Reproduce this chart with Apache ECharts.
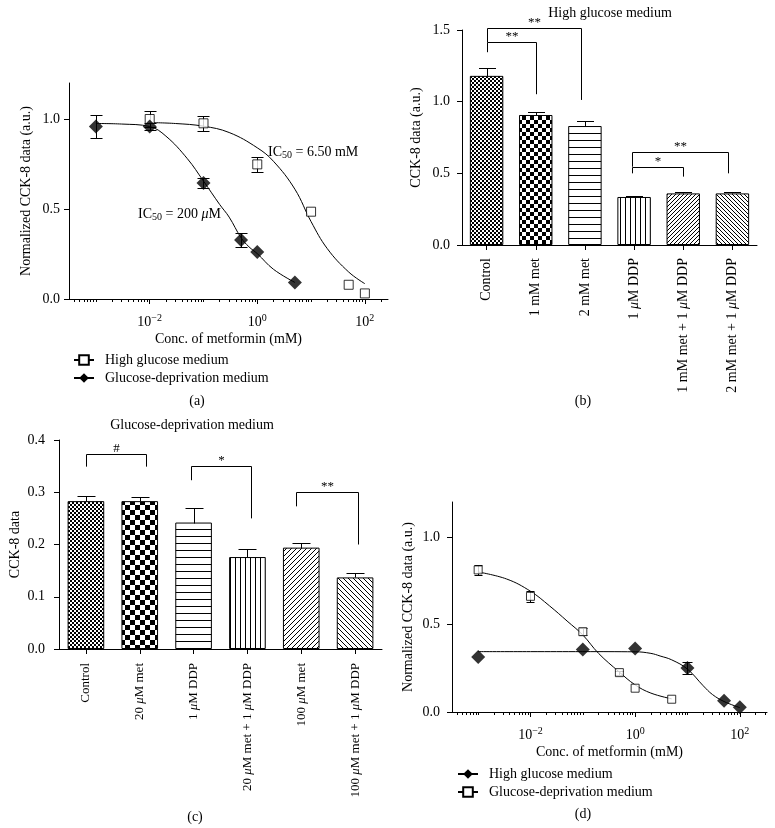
<!DOCTYPE html>
<html>
<head>
<meta charset="utf-8">
<script src="https://cdn.jsdelivr.net/npm/echarts@6/dist/echarts.min.js"></script>
<style>
html, body { margin: 0; padding: 0; background: #fff; }
#wrap { position: relative; width: 775px; height: 828px; }
.panel { position: absolute; }
</style>
</head>
<body>
<div id="wrap">
  <div id="pa" class="panel" style="left:0;top:0;width:390px;height:410px"></div>
  <div id="pb" class="panel" style="left:390px;top:0;width:385px;height:410px"></div>
  <div id="pc" class="panel" style="left:0;top:410px;width:390px;height:418px"></div>
  <div id="pd" class="panel" style="left:390px;top:410px;width:385px;height:418px"></div>
</div>
<script>
var FONT = '"Liberation Serif", "DejaVu Serif", serif';
var INK = '#000';

// ---- panel (a): dose response, mean +/- error ----
var concHgA = [0.01, 0.1, 1, 10, 50, 100];
var meanHgA = [1.0, 0.976, 0.748, 0.485, 0.079, 0.031];
var errHgA  = [0.045, 0.04, 0.043, 0, 0, 0];
var concGdA = [0.001, 0.01, 0.1, 0.5, 1, 5];
var meanGdA = [0.959, 0.959, 0.644, 0.328, 0.261, 0.092];
var errGdA  = [0.062, 0.02, 0.03, 0.04, 0, 0];
// fitted curves
var fitHgXA = [0.01, 0.03, 0.1, 0.3, 1, 2, 5, 10, 20, 50, 100];
var fitHgYA = [0.98, 0.975, 0.96, 0.925, 0.84, 0.765, 0.61, 0.43, 0.28, 0.15, 0.085];
var fitGdXA = [0.001, 0.003, 0.01, 0.02, 0.05, 0.1, 0.2, 0.3, 0.5, 0.7, 1, 2, 5];
var fitGdYA = [0.975, 0.972, 0.958, 0.905, 0.78, 0.655, 0.525, 0.455, 0.34, 0.29, 0.252, 0.165, 0.092];

// ---- panel (b): high glucose medium ----
var catsB = ['Control', '1 mM met', '2 mM met', '1 μM DDP', '1 mM met + 1 μM DDP', '2 mM met + 1 μM DDP'];
var valsB = [1.18, 0.907, 0.83, 0.335, 0.36, 0.36];
var errB  = [0.055, 0.02, 0.037, 0.005, 0.013, 0.007];
// brackets: [from, to, level, left leg end, right leg end]
var bracketsB = [[0, 1.01, 1.414, 1.345, 1.052], [0, 1.93, 1.512, 1.414, 1.012],
                 [2.95, 4.0, 0.546, 0.5, 0.477], [2.95, 4.91, 0.647, 0.546, 0.5]];
var bracketTextB = ['**', '**', '*', '**'];

// ---- panel (c): glucose-deprivation medium ----
var catsC = ['Control', '20 μM met', '1 μM DDP', '20 μM met + 1 μM DDP', '100 μM met', '100 μM met + 1 μM DDP'];
var valsC = [0.283, 0.283, 0.242, 0.176, 0.194, 0.137];
var errC  = [0.01, 0.008, 0.027, 0.016, 0.009, 0.008];
var bracketsC = [[0.01, 1.12, 0.373, 0.349, 0.349], [1.96, 3.06, 0.35, 0.323, 0.25],
                 [3.91, 5.05, 0.30, 0.273, 0.20]];
var bracketTextC = ['#', '*', '**'];

// ---- panel (d) ----
var concHgD = [0.001, 0.1, 1, 10, 50, 100];
var meanHgD = [0.315, 0.357, 0.363, 0.252, 0.065, 0.027];
var errHgD  = [0, 0, 0, 0.032, 0, 0];
var concGdD = [0.001, 0.01, 0.1, 0.5, 1, 5];
var meanGdD = [0.812, 0.661, 0.459, 0.225, 0.136, 0.073];
var errGdD  = [0.028, 0.032, 0.02, 0.012, 0, 0];
var fitHgXD = [0.001, 0.01, 0.1, 1, 2, 3, 5, 10, 20, 30, 50, 100];
var fitHgYD = [0.345, 0.345, 0.345, 0.344, 0.335, 0.32, 0.298, 0.245, 0.15, 0.1, 0.06, 0.025];
var fitGdXD = [0.001, 0.0035, 0.01, 0.023, 0.05, 0.1, 0.2, 0.5, 1, 2, 5];
var fitGdYD = [0.8, 0.76, 0.69, 0.607, 0.52, 0.44, 0.335, 0.228, 0.155, 0.108, 0.075];

// log axis ticks
var labelDecades = [0.01, 1, 100];
var otherDecades = [0.001, 0.1, 10];
var decadeStarts = [0.0001, 0.001, 0.01, 0.1, 1, 10, 100];
var minorSteps = [2, 3, 4, 5, 6, 7, 8, 9];

var hgName = 'High glucose medium';
var gdName = 'Glucose-deprivation medium';

var minorTicks = otherDecades.slice();
decadeStarts.forEach(function (d) {
    minorSteps.forEach(function (m) { minorTicks.push(+(d * m).toPrecision(3)); });
});

function pair(xs, ys) {
    return xs.map(function (x, i) { return [x, ys[i]]; });
}
function triple(xs, ys, es) {
    return xs.map(function (x, i) { return [x, ys[i], es[i]]; });
}

// ---- fill patterns ----
function tile(w, h) {
    var c = document.createElement('canvas');
    c.width = w; c.height = h;
    var ctx = c.getContext('2d');
    ctx.fillStyle = '#fff';
    ctx.fillRect(0, 0, w, h);
    ctx.fillStyle = INK;
    ctx.strokeStyle = INK;
    return { c: c, ctx: ctx };
}
function checker(s) {
    var t = tile(2 * s, 2 * s);
    t.ctx.fillRect(0, 0, s, s);
    t.ctx.fillRect(s, s, s, s);
    return { image: t.c, repeat: 'repeat' };
}
function hLines(g) {
    var t = tile(g, g);
    t.ctx.fillRect(0, 0, g, 1);
    return { image: t.c, repeat: 'repeat' };
}
function vLines(g) {
    var t = tile(g, g);
    t.ctx.fillRect(0, 0, 1, g);
    return { image: t.c, repeat: 'repeat' };
}
function diag(g, up) {
    var t = tile(g, g), ctx = t.ctx;
    ctx.lineWidth = 1;
    ctx.beginPath();
    if (up) {
        ctx.moveTo(0, g); ctx.lineTo(g, 0);
        ctx.moveTo(-1, 1); ctx.lineTo(1, -1);
        ctx.moveTo(g - 1, g + 1); ctx.lineTo(g + 1, g - 1);
    } else {
        ctx.moveTo(0, 0); ctx.lineTo(g, g);
        ctx.moveTo(-1, g - 1); ctx.lineTo(1, g + 1);
        ctx.moveTo(g - 1, -1); ctx.lineTo(g + 1, 1);
    }
    ctx.stroke();
    return { image: t.c, repeat: 'repeat' };
}

var patternsB = [checker(2), checker(4), hLines(7), vLines(5), diag(4, true), diag(4, false)];
var patternsC = [checker(2), checker(5), hLines(7), vLines(5), diag(5, true), diag(5, false)];

// ---- custom renderers ----
function errorBars(cap, upOnly) {
    return function (params, api) {
        var e = api.value(2);
        if (!e) return;
        var x = api.value(0), y = api.value(1);
        var hi = api.coord([x, y + e]);
        var lo = api.coord([x, upOnly ? y : y - e]);
        var cx = Math.round(hi[0]) + 0.5, h = cap / 2;
        var yh = Math.round(hi[1]) + 0.5, yl = Math.round(lo[1]) + 0.5;
        var st = { stroke: INK, lineWidth: 1 };
        var kids = [
            { type: 'line', shape: { x1: cx, y1: yh, x2: cx, y2: yl }, style: st },
            { type: 'line', shape: { x1: cx - h, y1: yh, x2: cx + h, y2: yh }, style: st }
        ];
        if (!upOnly) {
            kids.push({ type: 'line', shape: { x1: cx - h, y1: yl, x2: cx + h, y2: yl }, style: st });
        }
        return { type: 'group', children: kids };
    };
}

function bracket(texts) {
    return function (params, api) {
        var a = api.coord([api.value(0), api.value(2)]);
        var b = api.coord([api.value(1), api.value(2)]);
        var la = api.coord([api.value(0), api.value(3)]);
        var lb = api.coord([api.value(1), api.value(4)]);
        var x1 = Math.round(a[0]) + 0.5, x2 = Math.round(b[0]) + 0.5, y = Math.round(a[1]) + 0.5;
        return {
            type: 'group',
            children: [
                { type: 'polyline', shape: { points: [[x1, la[1]], [x1, y], [x2, y], [x2, lb[1]]] },
                  style: { stroke: INK, fill: null, lineWidth: 1 } },
                { type: 'text', x: (x1 + x2) / 2, y: y + 1,
                  style: { text: texts[params.dataIndex], fontFamily: FONT, fontSize: 13, fill: INK,
                           align: 'center', textAlign: 'center', verticalAlign: 'bottom', textVerticalAlign: 'bottom' } }
            ]
        };
    };
}

// ---- axis / series builders ----
function supLabel(v) {
    var e = Math.round(Math.log(v) / Math.LN10);
    return '{b|10}{s|' + (e < 0 ? '\u2212' + (-e) : e) + '}';
}

function logAxes(xMin, xMax, nameGap) {
    return [{
        type: 'log', logBase: 10, min: xMin, max: xMax, position: 'bottom',
        axisLine: { show: true, lineStyle: { color: INK, width: 1 } },
        axisTick: { show: true, customValues: labelDecades, length: 5, lineStyle: { color: INK } },
        axisLabel: {
            customValues: labelDecades, formatter: supLabel, margin: 14,
            rich: {
                b: { fontFamily: FONT, fontSize: 14, color: INK },
                s: { fontFamily: FONT, fontSize: 10, color: INK, padding: [0, 0, 8, 0] }
            }
        },
        splitLine: { show: false },
        name: 'Conc. of metformin (mM)', nameLocation: 'middle', nameGap: nameGap, nameMoveOverlap: false,
        nameTextStyle: { fontFamily: FONT, fontSize: 14, color: INK }
    }, {
        type: 'log', logBase: 10, min: xMin, max: xMax, position: 'bottom',
        axisLine: { show: false },
        axisTick: { show: true, customValues: minorTicks, length: 3, lineStyle: { color: INK } },
        axisLabel: { show: false },
        splitLine: { show: false }
    }];
}

function curveYAxis(nameGap, margin) {
    return {
        type: 'value', min: 0, max: 1.2,
        axisLine: { show: true, onZero: false, lineStyle: { color: INK, width: 1 } },
        axisTick: { show: true, customValues: [0, 0.5, 1], length: 5, lineStyle: { color: INK } },
        axisLabel: { customValues: [0, 0.5, 1], margin: margin, fontFamily: FONT, fontSize: 14, color: INK,
                     formatter: function (v) { return v.toFixed(1); } },
        splitLine: { show: false },
        name: 'Normalized CCK-8 data (a.u.)', nameLocation: 'middle', nameGap: nameGap, nameRotate: 90,
        nameMoveOverlap: false,
        nameTextStyle: { fontFamily: FONT, fontSize: 14, color: INK }
    };
}

function barYAxis(max, step, name, nameGap, margin) {
    return {
        type: 'value', min: 0, max: max, interval: step,
        axisLine: { show: true, onZero: false, lineStyle: { color: INK, width: 1 } },
        axisTick: { show: true, length: 5, lineStyle: { color: INK } },
        axisLabel: { margin: margin, fontFamily: FONT, fontSize: 14, color: INK,
                     formatter: function (v) { return v.toFixed(1); } },
        splitLine: { show: false },
        name: name, nameLocation: 'middle', nameGap: nameGap, nameRotate: 90, nameMoveOverlap: false,
        nameTextStyle: { fontFamily: FONT, fontSize: 14, color: INK }
    };
}

function barXAxes(cats, fontSize, margin) {
    return [{
        type: 'category', data: cats,
        axisLine: { show: true, lineStyle: { color: INK, width: 1 } },
        axisTick: { show: true, alignWithLabel: true, length: 5, lineStyle: { color: INK } },
        axisLabel: {
            interval: 0, rotate: 90, margin: margin, fontFamily: FONT, fontSize: fontSize, color: INK,
            formatter: function (v) { return v.replace(/μ/g, '{i|μ}'); },
            rich: { i: { fontFamily: FONT, fontSize: fontSize, fontStyle: 'italic', color: INK } }
        },
        splitLine: { show: false }
    }, {
        // same band layout as a plain number line, for the brackets
        type: 'value', min: -0.5, max: 5.5, show: false
    }];
}

var squareA = { symbol: 'rect', size: 9, itemStyle: { color: '#fff', borderColor: INK, borderWidth: 1 } };
var squareD = { symbol: 'rect', size: 8, itemStyle: { color: '#fff', borderColor: INK, borderWidth: 1 } };
var diamond = { symbol: 'diamond', size: 14, itemStyle: { color: INK } };

function curve(name, data, mark) {
    return {
        name: name, type: 'line', data: data, smooth: 0.4, showSymbol: false,
        symbol: mark.symbol, symbolSize: mark.size, itemStyle: mark.itemStyle,
        lineStyle: { color: INK, width: 1 }, silent: true, z: 2
    };
}
function points(name, data, mark) {
    return {
        name: name, type: 'scatter', data: data, symbol: mark.symbol, symbolSize: mark.size,
        itemStyle: mark.itemStyle, silent: true, z: 5
    };
}
function errSeries(data, cap, upOnly) {
    return { type: 'custom', data: data, renderItem: errorBars(cap, upOnly), silent: true, z: 3 };
}
function bars(vals, patterns) {
    return {
        type: 'bar', barWidth: '68%', silent: true,
        data: vals.map(function (v, i) {
            return { value: v, itemStyle: { color: patterns[i], borderColor: INK, borderWidth: 1 } };
        })
    };
}
function legendAt(left, top, names) {
    return {
        data: names, orient: 'vertical', left: left, top: top, itemWidth: 20, itemHeight: 12, itemGap: 4,
        selectedMode: false,
        textStyle: { fontFamily: FONT, fontSize: 14, color: INK, padding: [0, 0, 0, 6] }
    };
}
function text(x, y, str, align, rich) {
    var st = { text: str, fontFamily: FONT, fontSize: 14, fill: INK,
               align: align, textAlign: align, verticalAlign: 'middle', textVerticalAlign: 'middle' };
    if (rich) st.rich = rich;
    return { type: 'text', x: x, y: y, style: st };
}
var icRich = {
    sub: { fontFamily: FONT, fontSize: 10, fill: INK, padding: [7, 0, 0, 0] },
    it: { fontFamily: FONT, fontSize: 14, fill: INK, fontStyle: 'italic' }
};

// ---- (a) ----
var chartA = echarts.init(document.getElementById('pa'));
chartA.setOption({
    animation: false,
    textStyle: { fontFamily: FONT, color: INK },
    grid: { left: 69, top: 83, width: 319, height: 216, outerBoundsMode: 'none' },
    xAxis: logAxes(Math.pow(10, -3.5), Math.pow(10, 2.43), 33),
    yAxis: curveYAxis(36, 9),
    legend: legendAt(68, 348, [hgName, gdName]),
    graphic: [
        text(268, 152, 'IC{sub|50} = 6.50 mM', 'left', icRich),
        text(138, 214, 'IC{sub|50} = 200 {it|μ}M', 'left', icRich),
        text(197, 401, '(a)', 'center')
    ],
    series: [
        curve(hgName, pair(fitHgXA, fitHgYA), squareA),
        curve(gdName, pair(fitGdXA, fitGdYA), diamond),
        errSeries(triple(concHgA, meanHgA, errHgA), 12),
        errSeries(triple(concGdA, meanGdA, errGdA), 12),
        points(hgName, pair(concHgA, meanHgA), squareA),
        points(gdName, pair(concGdA, meanGdA), diamond)
    ]
});

// ---- (b) ----
var chartB = echarts.init(document.getElementById('pb'));
chartB.setOption({
    animation: false,
    textStyle: { fontFamily: FONT, color: INK },
    grid: { left: 72, top: 30, width: 295, height: 215, outerBoundsMode: 'none' },
    xAxis: barXAxes(catsB, 14, 13),
    yAxis: barYAxis(1.5, 0.5, 'CCK-8 data (a.u.)', 39, 12),
    graphic: [
        text(220, 13, 'High glucose medium', 'center'),
        text(193, 401, '(b)', 'center')
    ],
    series: [
        bars(valsB, patternsB),
        errSeries(triple([0, 1, 2, 3, 4, 5], valsB, errB), 17, true),
        { type: 'custom', xAxisIndex: 1, data: bracketsB, encode: { x: [0, 1], y: [2, 3, 4] },
          renderItem: bracket(bracketTextB), silent: true, z: 4 }
    ]
});

// ---- (c) ----
var chartC = echarts.init(document.getElementById('pc'));
chartC.setOption({
    animation: false,
    textStyle: { fontFamily: FONT, color: INK },
    grid: { left: 59, top: 30, width: 323, height: 209, outerBoundsMode: 'none' },
    xAxis: barXAxes(catsC, 13, 14),
    yAxis: barYAxis(0.4, 0.1, 'CCK-8 data', 37, 14),
    graphic: [
        text(192, 15, 'Glucose-deprivation medium', 'center'),
        text(195, 407, '(c)', 'center')
    ],
    series: [
        bars(valsC, patternsC),
        errSeries(triple([0, 1, 2, 3, 4, 5], valsC, errC), 18, true),
        { type: 'custom', xAxisIndex: 1, data: bracketsC, encode: { x: [0, 1], y: [2, 3, 4] },
          renderItem: bracket(bracketTextC), silent: true, z: 4 }
    ]
});

// ---- (d) ----
var chartD = echarts.init(document.getElementById('pd'));
chartD.setOption({
    animation: false,
    textStyle: { fontFamily: FONT, color: INK },
    grid: { left: 62, top: 92, width: 315, height: 210, outerBoundsMode: 'none' },
    xAxis: logAxes(Math.pow(10, -3.5), Math.pow(10, 2.52), 33),
    yAxis: curveYAxis(37, 12),
    legend: legendAt(62, 352, [hgName, gdName]),
    graphic: [
        text(193, 404, '(d)', 'center')
    ],
    series: [
        curve(hgName, pair(fitHgXD, fitHgYD), diamond),
        curve(gdName, pair(fitGdXD, fitGdYD), squareD),
        errSeries(triple(concHgD, meanHgD, errHgD), 10),
        errSeries(triple(concGdD, meanGdD, errGdD), 8),
        points(hgName, pair(concHgD, meanHgD), diamond),
        points(gdName, pair(concGdD, meanGdD), squareD)
    ]
});
</script>
</body>
</html>
